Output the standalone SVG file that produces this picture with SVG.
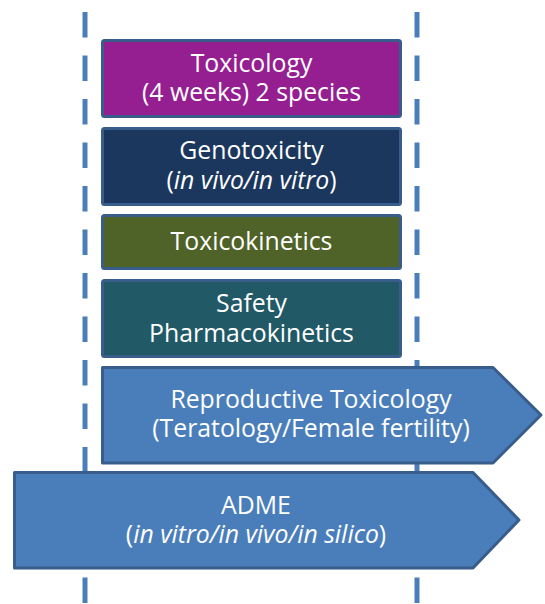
<svg xmlns="http://www.w3.org/2000/svg" width="545" height="604" viewBox="0 0 545 604">
<style>
.guide{stroke:#4a7ebb;stroke-width:5;stroke-dasharray:25.5 18;fill:none}
.box{stroke:#385d8a;stroke-width:3;stroke-linejoin:round}
.t{font-family:"Open Sans","Noto Sans",sans-serif;font-size:24.8px;fill:#ffffff;text-anchor:middle}
.i{font-style:italic}
</style>
<g id="guides">
<line class="guide" x1="85" y1="12" x2="85" y2="604"/>
<line class="guide" x1="417" y1="12" x2="417" y2="604"/>
</g>
<g id="toxicology">
<rect class="box" x="102.5" y="40.5" width="298" height="76" rx="2" fill="#951f91"/>
<text class="t" x="251.5" y="72">Toxicology</text>
<text class="t" x="251.5" y="101">(4 weeks) 2 species</text>
</g>
<g id="genotoxicity">
<rect class="box" x="102.5" y="128.5" width="298" height="76" rx="2" fill="#1b375e"/>
<text class="t" x="251.5" y="159">Genotoxicity</text>
<text class="t" x="251.5" y="189">(<tspan class="i">in vivo/in vitro</tspan>)</text>
</g>
<g id="toxicokinetics">
<rect class="box" x="102.5" y="215.5" width="298" height="53" rx="2" fill="#4f6228"/>
<text class="t" x="251.5" y="250">Toxicokinetics</text>
</g>
<g id="safety">
<rect class="box" x="102.5" y="280.5" width="298" height="76" rx="2" fill="#215967"/>
<text class="t" x="251.5" y="312">Safety</text>
<text class="t" x="251.5" y="342">Pharmacokinetics</text>
</g>
<g id="reproductive">
<path class="box" d="M102.5 367.5 H493 L541 415 L493 463 H102.5 Z" fill="#4a7ebb"/>
<text class="t" x="311" y="408">Reproductive Toxicology</text>
<text class="t" x="311" y="437">(Teratology/Female fertility)</text>
</g>
<g id="adme">
<path class="box" d="M14.5 472.5 H473 L519 520 L473 568 H14.5 Z" fill="#4a7ebb"/>
<text class="t" x="256" y="514">ADME</text>
<text class="t" x="256" y="543">(<tspan class="i">in vitro/in vivo/in silico</tspan>)</text>
</g>
</svg>
